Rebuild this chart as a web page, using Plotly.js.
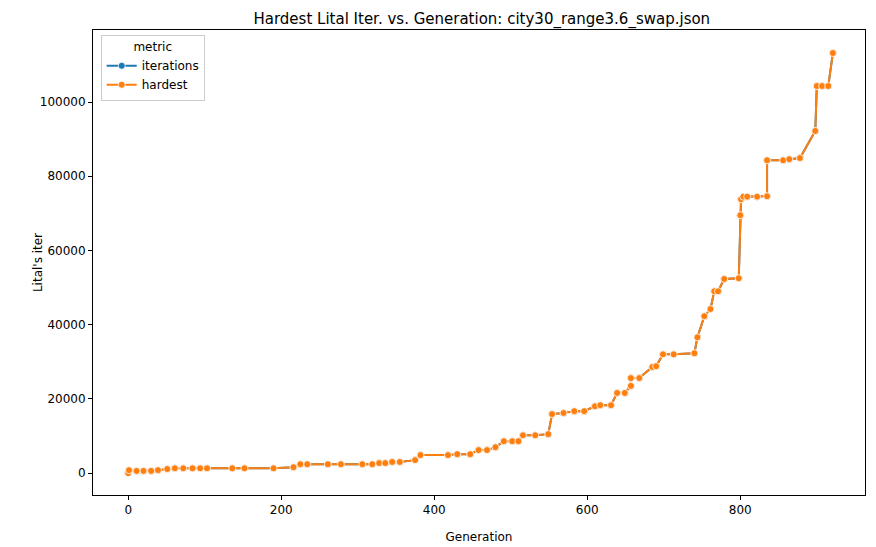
<!DOCTYPE html>
<html>
<head>
<script src="https://cdn.plot.ly/plotly-3.0.1.min.js"></script>
</head>
<body style="margin:0">
<div id="chart" style="width:876px;height:547px"></div>
<script>
var generation = [0,1,11,20,30,39,51,61,72,84,94,103,136,152,190,216,225,234,261,278,306,319,328,336,345,355,375,382,418,430,447,458,469,480,491,502,510,516,532,549,554,569,583,596,610,617,631,639,649,657,657,668,685,690,699,713,740,744,753,761,766,771,779,798,800,801,804,809,822,835,835,856,864,878,898,900,907,915,921];
var hardest = [0,800,600,600,600,800,1100,1300,1300,1300,1300,1300,1300,1300,1300,1600,2400,2400,2400,2400,2400,2400,2700,2700,3000,3000,3500,4850,4850,5100,5100,6200,6200,7000,8600,8600,8600,10200,10200,10500,15900,16200,16700,16700,18000,18300,18300,21600,21600,23500,25600,25600,28600,28800,32000,32000,32300,36600,42300,44200,49000,49000,52300,52500,69500,73800,74500,74500,74500,74600,84300,84300,84600,84900,92200,104300,104300,104300,113200];
var iterations = hardest.slice();

function tr(name, y, color) {
  return {x: generation, y: y, name: name, type: 'scatter', mode: 'lines+markers',
    line: {color: color, width: 2},
    marker: {color: color, size: 7, line: {color: 'white', width: 0.8}}};
}
var data = [tr('iterations', iterations, '#1f77b4'), tr('hardest', hardest, '#ff7f0e')];

var ax = {showgrid: false, zeroline: false, showline: true, mirror: true, linecolor: 'black',
  ticks: 'outside', ticklen: 4, tickcolor: 'black', tickfont: {size: 12}};
var layout = {
  width: 876, height: 547,
  margin: {l: 93, r: 11, t: 30, b: 52},
  font: {family: 'DejaVu Sans', color: 'black'},
  title: {text: 'Hardest Lital Iter. vs. Generation: city30_range3.6_swap.json', font: {size: 15}, x: 0.55, y: 0.975},
  xaxis: Object.assign({}, ax, {range: [-46, 963], tickvals: [0,200,400,600,800], title: {text: 'Generation', font: {size: 12}}}),
  yaxis: Object.assign({}, ax, {range: [-5900, 119400], tickvals: [0,20000,40000,60000,80000,100000], tickformat: 'd', title: {text: "Lital's iter", font: {size: 12}}}),
  legend: {x: 0.01, y: 0.99, xanchor: 'left', yanchor: 'top', bordercolor: '#ccc', borderwidth: 1,
    title: {text: 'metric', side: 'top center', font: {size: 12}}, font: {size: 12}},
  plot_bgcolor: 'white', paper_bgcolor: 'white'
};
Plotly.newPlot('chart', data, layout, {displayModeBar: false});
</script>
</body>
</html>
